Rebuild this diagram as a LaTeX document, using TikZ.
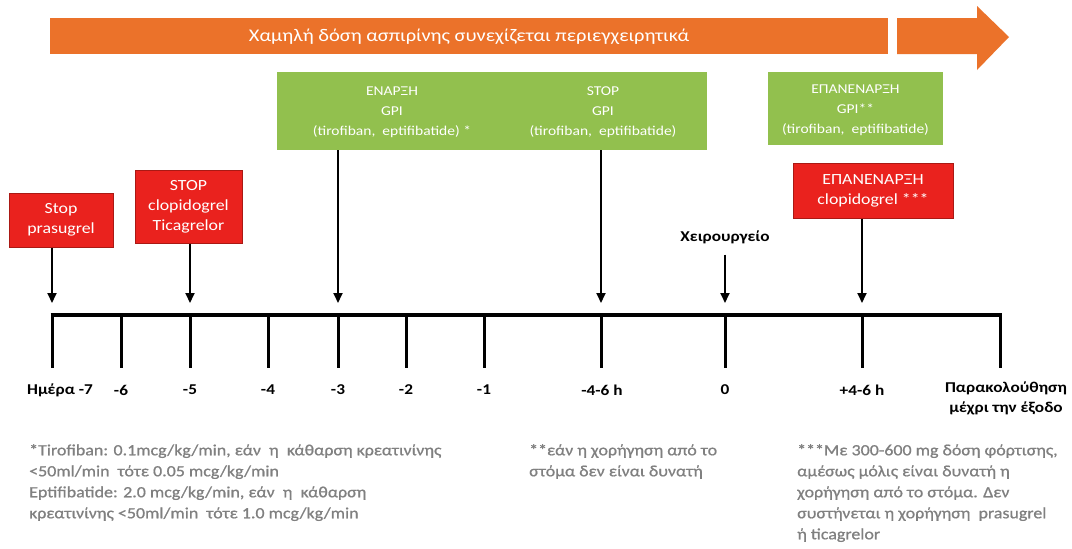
\documentclass[tikz,border=0pt]{standalone}
\usepackage{fontspec}
\setmainfont[FakeStretch=1.15]{Carlito}
\newfontfamily\footfont[FakeStretch=1.15,FakeBold=0.8]{Carlito}
\usetikzlibrary{arrows.meta}
\definecolor{orangeA}{RGB}{235,114,42}
\definecolor{greenA}{RGB}{146,192,78}
\definecolor{redA}{RGB}{234,34,30}
\definecolor{redB}{RGB}{170,25,20}
\definecolor{grayT}{RGB}{128,128,128}
\begin{document}
\begin{tikzpicture}[x=1pt,y=-1pt,
  redbox/.style={fill=redA, draw=redB, line width=1pt, text=white, align=center, inner sep=0pt,
    font=\fontsize{15.5}{20}\selectfont},
  greenbox/.style={fill=greenA, draw=none, inner sep=0pt},
  gtext/.style={text=white, align=center, inner sep=0pt, font=\fontsize{13.5}{20}\selectfont},
  arr/.style={line width=1.8pt, -{Triangle[length=10pt,width=9pt]}},
  tick/.style={line width=3pt},
  daylab/.style={font=\bfseries\fontsize{15}{20}\selectfont, inner sep=0pt, align=center},
  foot/.style={text=grayT, align=left, anchor=north west, inner sep=0pt, font=\footfont\fontsize{15.6}{21}\selectfont}]
\useasboundingbox (0,0) rectangle (1072,549);
\fill[white] (0,0) rectangle (1072,549);
% orange arrow
\fill[orangeA] (50,18) rectangle (888,54);
\fill[orangeA] (897,18) -- (977,18) -- (977,6) -- (1009,37) -- (977,70) -- (977,54) -- (897,54) -- cycle;
\node[text=white, font=\fontsize{17.8}{18}\selectfont] (aspirin) at (469,37) {Χαμηλή δόση ασπιρίνης συνεχίζεται περιεγχειρητικά};
% green boxes
\node[greenbox, minimum width=430pt, minimum height=78pt] (g1) at (492,111) {};
\node[gtext] (g1a) at (392,112) {ΕΝΑΡΞΗ\\GPI\\(tirofiban,\ \ eptifibatide) *};
\node[gtext] (g1b) at (603,112) {STOP\\GPI\\(tirofiban,\ \ eptifibatide)};
\node[greenbox, minimum width=175pt, minimum height=73pt] (g2) at (855.5,108.5) {};
\node[gtext] (g2a) at (855.5,110) {ΕΠΑΝΕΝΑΡΞΗ\\GPI**\\(tirofiban,\ \ eptifibatide)};
% red boxes
\node[redbox, minimum width=104pt, minimum height=54pt] (r1) at (61,220) {Stop\\prasugrel};
\node[redbox, minimum width=107pt, minimum height=73pt] (r2) at (188.5,206.5) {STOP\\clopidogrel\\Ticagrelor};
\node[redbox, minimum width=160pt, minimum height=55pt] (r3) at (873,190.5) {ΕΠΑΝΕΝΑΡΞΗ\\clopidogrel ***};
\node[font=\bfseries\fontsize{15}{18}\selectfont, inner sep=0pt] (surg) at (725,237) {Χειρουργείο};
% timeline coordinates
\foreach \n/\x in {1/52,2/121,3/190,4/268,5/338,6/406,7/484,8/601,9/725,10/862,11/1000}{
  \coordinate (t\n) at (\x,315);
  \coordinate (b\n) at (\x,368);
  \coordinate (a\n) at (\x,303);
}
\draw[line width=4pt] ([xshift=-1.5pt]t1) -- ([xshift=1.5pt]t11);
\foreach \n in {1,...,11}{ \draw[tick] (t\n) -- (b\n); }
% arrows
\draw[arr] (r1.south -| t1) -- (a1);
\draw[arr] (r2.south -| t3) -- (a3);
\draw[arr] (g1.south -| t5) -- (a5);
\draw[arr] (g1.south -| t8) -- (a8);
\draw[arr] ([yshift=-11pt]surg.south -| t9) -- (a9);
\draw[arr] (r3.south -| t10) -- (a10);
% labels
\node[daylab] (l1) at (60,390) {Ημέρα -7};
\node[daylab] (l2) at (121,390) {-6};
\node[daylab] (l3) at (190,390) {-5};
\node[daylab] (l4) at (268,390) {-4};
\node[daylab] (l5) at (338,390) {-3};
\node[daylab] (l6) at (406,390) {-2};
\node[daylab] (l7) at (484,390) {-1};
\node[daylab] (l8) at (602,390) {-4-6 h};
\node[daylab] (l9) at (725,390) {0};
\node[daylab] (l10) at (862,390) {+4-6 h};
\node[daylab, anchor=north] (l11) at (1006,382) {Παρακολούθηση\\μέχρι την έξοδο};
% footnotes
\node[foot] (f1) at (29,444) {*Tirofiban: 0.1mcg/kg/min, εάν\ \ η\ \ κάθαρση κρεατινίνης\\
<50ml/min\ \ τότε 0.05 mcg/kg/min\\
Eptifibatide: 2.0 mcg/kg/min, εάν\ \ η\ \ κάθαρση\\
κρεατινίνης <50ml/min\ \ τότε 1.0 mcg/kg/min};
\node[foot] (f2) at (529,444) {**εάν η χορήγηση από το\\στόμα δεν είναι δυνατή};
\node[foot] (f3) at (797,444) {***Με 300-600 mg δόση φόρτισης,\\
αμέσως μόλις είναι δυνατή η\\
χορήγηση από το στόμα. Δεν\\
συστήνεται η χορήγηση\ \ prasugrel\\
ή ticagrelor};
\end{tikzpicture}
\end{document}
